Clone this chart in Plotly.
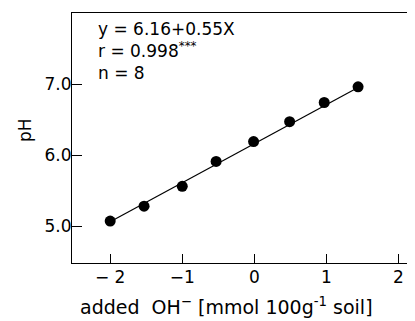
import plotly.graph_objects as go

# data
added_oh = [-2.0, -1.53, -1.0, -0.53, -0.01, 0.49, 0.97, 1.44]
ph = [5.07, 5.28, 5.56, 5.91, 6.19, 6.47, 6.74, 6.96]
intercept = 6.16
slope = 0.55
x_ticks = [-2, -1, 0, 1, 2]
x_tick_labels = ["− 2", "−1", "0", "1", "2"]
y_ticks = [5.0, 6.0, 7.0]
y_tick_labels = ["5.0", "6.0", "7.0"]

FONT = "DejaVu Sans"

fit_x = [min(added_oh), max(added_oh)]
fit_y = [intercept + slope * v for v in fit_x]

fig = go.Figure()
fig.add_trace(go.Scatter(x=fit_x, y=fit_y, mode="lines",
                         line=dict(color="black", width=1.2), showlegend=False))
fig.add_trace(go.Scatter(x=added_oh, y=ph, mode="markers",
                         marker=dict(color="black", size=11), showlegend=False))

fig.add_annotation(
    text="y = 6.16+0.55X<br>r = 0.998<sup>***</sup><br>n = 8",
    xref="paper", yref="paper", x=0.07, y=0.985, xanchor="left", yanchor="top",
    align="left", showarrow=False,
    font=dict(family=FONT, size=17, color="black"))

# axis titles as annotations for precise placement
fig.add_annotation(
    text="added  OH<sup>−</sup> [mmol 100g<sup>-1</sup> soil]",
    xref="paper", yref="paper", x=0.449, y=-0.172, xanchor="center", yanchor="middle",
    showarrow=False, font=dict(family=FONT, size=19, color="black"))
fig.add_annotation(
    text="pH", textangle=-90,
    xref="paper", yref="paper", x=-0.137, y=0.532, xanchor="center", yanchor="middle",
    showarrow=False, font=dict(family=FONT, size=17, color="black"))

fig.update_layout(
    width=407, height=321,
    margin=dict(l=64, r=0, t=5, b=66),
    paper_bgcolor="white", plot_bgcolor="white",
    font=dict(family=FONT, size=16, color="black"),
    xaxis=dict(range=[-2.53, 2.23], tickvals=x_ticks, ticktext=x_tick_labels,
               ticks="inside", ticklen=9,
               tickwidth=1.2, tickcolor="black", showline=True, linecolor="black",
               linewidth=1.2, mirror=True, showgrid=False, zeroline=False,
               automargin=False, ticklabelstandoff=-2,
               tickfont=dict(size=17)),
    yaxis=dict(range=[4.48, 8.0], tickvals=y_ticks, ticktext=y_tick_labels,
               ticks="inside", ticklen=10, tickwidth=1.2, tickcolor="black",
               showline=True, linecolor="black", linewidth=1.2, mirror=False,
               showgrid=False, zeroline=False, automargin=False,
               ticklabelstandoff=-4,
               tickfont=dict(size=17)),
)

fig.write_html("out.html")
